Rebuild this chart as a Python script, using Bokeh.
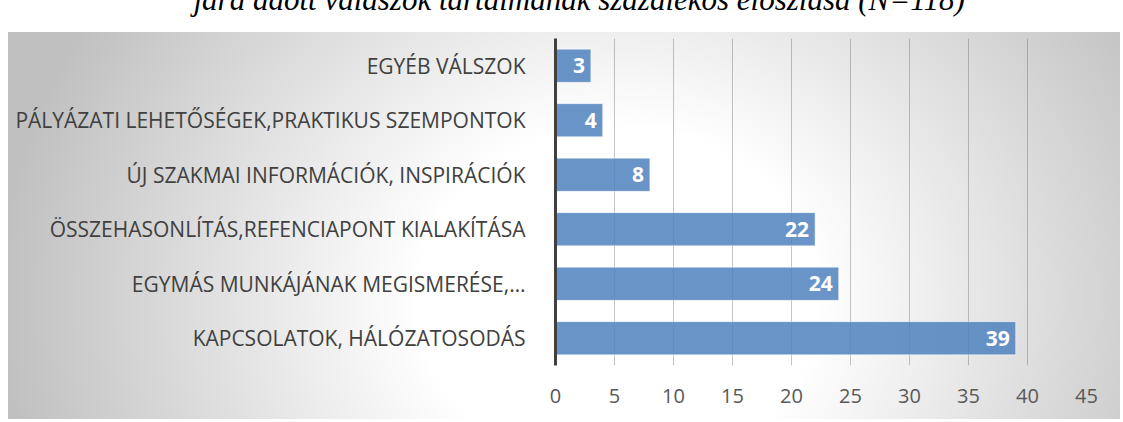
from bokeh.plotting import figure
from bokeh.models import Range1d, FactorRange, SingleIntervalTicker, ColumnDataSource
from bokeh.core.properties import value
from bokeh.embed import file_html
from bokeh.resources import INLINE

# ---- data (bottom to top) ----
categories = [
    "KAPCSOLATOK, HÁLÓZATOSODÁS",
    "EGYMÁS MUNKÁJÁNAK MEGISMERÉSE,…",
    "ÖSSZEHASONLÍTÁS,REFENCIAPONT KIALAKÍTÁSA",
    "ÚJ SZAKMAI INFORMÁCIÓK, INSPIRÁCIÓK",
    "PÁLYÁZATI LEHETŐSÉGEK,PRAKTIKUS SZEMPONTOK",
    "EGYÉB VÁLSZOK",
]
values = [39, 24, 22, 8, 4, 3]
title_text = "jára adott válaszok tartalmának százalékos eloszlása (N=118)"
x_max = 45
x_step = 5

W, H = 1123, 422
S = 50                      # part of the canvas hidden above the window (title is cut off)
FL, FR, FT, FB = 555, 1086, 38, 365

src = ColumnDataSource(dict(cat=categories, val=values, lab=[str(v) for v in values]))

p = figure(
    width=W, height=H + S,
    y_range=FactorRange(*categories, range_padding=0),
    x_range=Range1d(0, x_max),
    output_backend="svg", toolbar_location=None,
    min_border_left=FL, min_border_right=W - FR,
    min_border_top=FT + S, min_border_bottom=H - FB,
)
p.background_fill_alpha = 0
p.border_fill_alpha = 0
p.outline_line_color = None
p.styles = {
    "background": ("radial-gradient(620px 540px at 610px %dpx, #ffffff 0%%, #ffffff 32%%, #c0c0c0 100%%) "
                   "8px %dpx / 1112px 387px no-repeat, #ffffff") % (300 - 32, 32 + S),
    "transform": "translateY(-%dpx)" % S,
}

# title (only its lower part shows in the window)
p.title.text = title_text
p.title.align = "left"
p.title.offset = 193 - FL
p.title.text_font = "Liberation Serif"
p.title.text_font_style = "italic"
p.title.text_font_size = "31px"
p.title.text_color = "#000000"
p.title.standoff = 43

p.hbar(y="cat", right="val", left=0, height=0.61, source=src,
       fill_color="#4f81bd", fill_alpha=0.85, line_color="#ffffff", line_alpha=0.5, line_width=1)

p.text(x="val", y="cat", text="lab", source=src, x_offset=-6,
       text_align="right", text_baseline="middle", text_color="#ffffff",
       text_font=value("Open Sans"), text_font_style="bold", text_font_size="21px")

# x axis
p.xaxis.ticker = SingleIntervalTicker(interval=x_step)
p.xaxis.axis_line_color = None
p.xaxis.major_tick_line_color = None
p.xaxis.minor_tick_line_color = None
p.xaxis.major_label_standoff = 17
p.xaxis.major_label_text_font = "Open Sans"
p.xaxis.major_label_text_font_size = "20px"
p.xaxis.major_label_text_color = "#595959"

# y axis
p.yaxis.axis_line_color = "#404040"
p.yaxis.axis_line_width = 3
p.yaxis.major_tick_line_color = None
p.yaxis.minor_tick_line_color = None
p.yaxis.major_label_standoff = 24
p.yaxis.major_label_text_font = "Open Sans"
p.yaxis.major_label_text_font_size = "21px"
p.yaxis.major_label_text_color = "#404040"

# grid
p.xgrid.ticker = SingleIntervalTicker(interval=x_step)
p.xgrid.grid_line_color = "#595959"
p.xgrid.grid_line_alpha = 0.35
p.xgrid.grid_line_width = 1
p.ygrid.grid_line_color = None

open("out.html", "w").write(file_html(p, INLINE))
